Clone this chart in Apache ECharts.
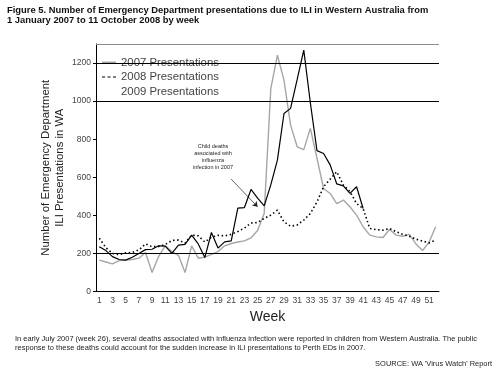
<!DOCTYPE html>
<html><head><meta charset="utf-8">
<script src="https://cdn.jsdelivr.net/npm/echarts@6/dist/echarts.min.js"></script>
<style>html,body{margin:0;padding:0;background:#fff}#c{width:500px;height:373px}</style>
</head><body><div id="c"></div>
<script>
const weeks = ['1','2','3','4','5','6','7','8','9','10','11','12','13','14','15','16','17','18','19','20','21','22','23','24','25','26','27','28','29','30','31','32','33','34','35','36','37','38','39','40','41','42','43','44','45','46','47','48','49','50','51','52'];
const yTicks = [0,200,400,600,800,1000,1200];
const gridValues = [200,1000,1200];
const topValue = 1300;
const pres2007 = [165,155,145,162,165,168,175,205,100,185,240,210,190,100,240,175,180,195,210,240,252,260,266,282,320,410,1066,1241,1110,874,760,745,857,700,541,515,462,480,445,401,340,296,287,284,326,296,290,300,250,215,260,340];
const pres2008 = [280,230,200,193,203,205,218,250,235,237,247,268,270,254,296,293,260,285,295,292,300,315,333,360,362,384,401,427,366,343,349,375,410,470,550,590,629,559,525,462,436,331,325,322,331,314,300,290,275,265,255,270];
const pres2009 = [235,215,183,168,165,180,200,220,222,240,238,200,244,248,296,250,178,310,228,261,266,438,441,536,490,450,560,690,935,962,1114,1268,990,740,725,665,565,555,515,550,436];
const arrowFrom = ['21', 590];
const arrowTo = ['25', 445];

const titleText = 'Figure 5. Number of Emergency Department presentations due to ILI in Western Australia from\n1 January 2007 to 11 October 2008 by week';
const noteText = 'In early July 2007 (week 26), several deaths associated with influenza infection were reported in children from Western Australia. The public\nresponse to these deaths could account for the sudden increase in ILI presentations to Perth EDs in 2007.';
const sourceText = "SOURCE: WA 'Virus Watch' Report";
const yName = 'Number of Emergency Department\nILI Presentations in WA';

const ff = 'Liberation Sans, Arial, sans-serif';
const cv = document.createElement('canvas').getContext('2d');
function fit(text, target, weight) {
  cv.font = (weight||'normal') + ' 100px ' + ff;
  return 100 * target / cv.measureText(text).width;
}
const titleSize = fit(titleText.split('\n')[0], 422, 'bold');
const noteSize = fit(noteText.split('\n')[0], 462);
const sourceSize = fit(sourceText, 117);
const legendSize = fit('2007 Presentations', 98);
const yNameSize = fit(yName.split('\n')[0], 176);

const chart = echarts.init(document.getElementById('c'), null, {renderer:'canvas'});
const hideSym = {opacity:0};
chart.setOption({
  animation:false,
  backgroundColor:'#fff',
  textStyle:{fontFamily:ff},
  title:{
    text:titleText, left:7, top:5, padding:0,
    textStyle:{fontSize:titleSize, fontWeight:'bold', color:'#111', lineHeight:10.5, fontFamily:ff}
  },
  grid:{left:96, right:61, top:44, bottom:81.5, containLabel:false},
  legend:{
    orient:'vertical', left:98, top:56, padding:[1,3,1,3], itemGap:3.5,
    itemWidth:14, itemHeight:11, backgroundColor:'#fff',
    textStyle:{fontSize:legendSize, color:'#444', fontFamily:ff},
    data:[
      {name:'2007 Presentations', itemStyle:hideSym},
      {name:'2008 Presentations', itemStyle:hideSym, lineStyle:{type:[3,2.5], width:1.2, color:'#000'}},
      {name:'2009 Presentations', itemStyle:hideSym, lineStyle:{opacity:0}}
    ]
  },
  xAxis:{
    type:'category', data:weeks, boundaryGap:true,
    name:'Week', nameLocation:'middle', nameGap:15,
    nameTextStyle:{fontSize:14, color:'#222', fontFamily:ff},
    axisLine:{lineStyle:{color:'#000', width:1}},
    axisTick:{interval:0, length:3, lineStyle:{color:'#000'}},
    axisLabel:{interval:1, fontSize:8.5, color:'#444', margin:5, fontFamily:ff},
    splitLine:{show:false}
  },
  yAxis:{
    type:'value', min:0, max:topValue,
    name:yName, nameLocation:'middle', nameGap:29, nameMoveOverlap:false,
    nameTextStyle:{fontSize:yNameSize, color:'#222', lineHeight:14, fontFamily:ff},
    axisLine:{show:true, lineStyle:{color:'#000', width:1}},
    axisTick:{show:true, length:3, customValues:yTicks, lineStyle:{color:'#000'}},
    axisLabel:{customValues:yTicks, formatter:v=>String(v), fontSize:8.5, color:'#444', margin:5, fontFamily:ff},
    splitLine:{show:false}
  },
  series:[
    {
      name:'2007 Presentations', type:'line', data:pres2007, symbol:'none', z:3,
      lineStyle:{color:'#a6a6a6', width:1.4}, itemStyle:{color:'#a6a6a6'},
      markLine:{
        silent:true, symbol:'none', label:{show:false}, animation:false,
        data:[
          ...gridValues.map(v=>({yAxis:v, lineStyle:{color:'#000', width:1, type:'solid'}})),
          {yAxis:topValue, lineStyle:{color:'#8c8c8c', width:1, type:'solid'}}
        ]
      }
    },
    {
      name:'2008 Presentations', type:'line', data:pres2008, symbol:'none', z:4,
      lineStyle:{color:'#000', width:1.6, type:[1.5,2.6]}, itemStyle:{color:'#000'},
      markLine:{
        silent:true, symbol:['none','arrow'], symbolSize:[5,5], label:{show:false}, animation:false,
        lineStyle:{color:'#222', width:0.7, type:'solid'},
        data:[[{coord:arrowFrom},{coord:arrowTo}]]
      }
    },
    {
      name:'2009 Presentations', type:'line', data:pres2009, symbol:'none', z:5,
      lineStyle:{color:'#000', width:1.2}, itemStyle:{color:'#000'}
    }
  ],
  graphic:[
    {type:'text', x:213, y:143, silent:true, style:{text:'Child deaths\nassociated with\ninfluenza\ninfection in 2007', font:'5.5px '+ff, fill:'#222', align:'center', verticalAlign:'top', lineHeight:7}},
    {type:'text', x:15, y:334, silent:true, style:{text:noteText, font:noteSize.toFixed(2)+'px '+ff, fill:'#222', align:'left', verticalAlign:'top', lineHeight:9.5}},
    {type:'text', x:492, y:360, silent:true, style:{text:sourceText, font:sourceSize.toFixed(2)+'px '+ff, fill:'#222', align:'right', verticalAlign:'top'}}
  ]
});
</script></body></html>
